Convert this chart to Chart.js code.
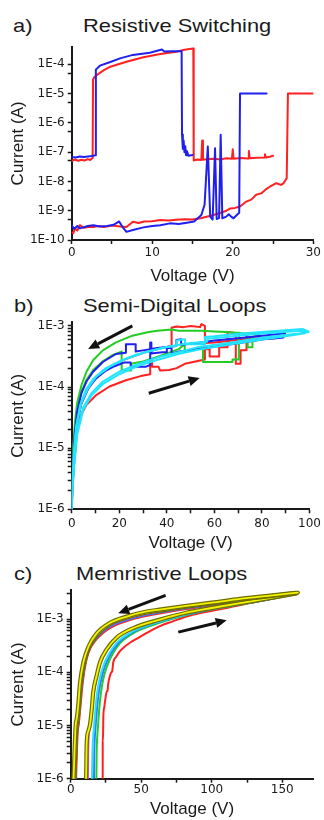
<!DOCTYPE html>
<html>
<head>
<meta charset="utf-8">
<script src="https://cdn.jsdelivr.net/npm/chart.js@4.4.1/dist/chart.umd.min.js"></script>
<style>
    html, body { margin: 0; padding: 0; background: #fff; }
    body {
        width: 324px; height: 820px; position: relative; overflow: hidden;
        font-family: "Liberation Sans", Arial, sans-serif; color: #1a1a1a;
    }
    .tag, .head {
        position: absolute; font-size: 19px; line-height: 19px; white-space: nowrap;
        transform: scaleX(1.15); transform-origin: left top;
    }
    .panel { position: absolute; left: 0; width: 324px; }
</style>
</head>
<body>
<div class="tag" style="left:13px;top:15.6px">a)</div>
<div class="head" style="left:83px;top:15.6px">Resistive Switching</div>
<div class="panel" style="top:36px;height:254px"><canvas id="chartA"></canvas></div>

<div class="tag" style="left:14px;top:295.6px">b)</div>
<div class="head" style="left:83px;top:295.6px">Semi-Digital Loops</div>
<div class="panel" style="top:312px;height:248px"><canvas id="chartB"></canvas></div>

<div class="tag" style="left:14px;top:564px">c)</div>
<div class="head" style="left:76px;top:564px">Memristive Loops</div>
<div class="panel" style="top:580px;height:240px"><canvas id="chartC"></canvas></div>

<script>
// ---- a) resistive switching: [voltage, current] ----
const aVoltTicks = [0, 5, 10, 15, 20, 25, 30];
const aVoltLabels = ['0', '', '10', '', '20', '', '30'];
const aCurrTicks = [1e-10, 5e-10, 1e-9, 5e-9, 1e-8, 5e-8, 1e-7, 5e-7, 1e-6, 5e-6, 1e-5, 5e-5, 1e-4];

const aRedSet = [[0,5.0e-8],[0.4,5.6e-8],[0.8,5.1e-8],[1.2,5.5e-8],[1.6,5.2e-8],[2.0,5.8e-8],[2.3,5.4e-8],[2.6,6.3e-8],
    [2.65,3.0e-5],[2.8,3.6e-5],[3.1,4.3e-5],[4.0,6.3e-5],[4.8,8.3e-5],[6.8,1.23e-4],[8.9,1.74e-4],[11,2.24e-4],[13,2.7e-4],[14,3.16e-4],[15.1,3.47e-4],
    [15.15,5.2e-8],[15.6,5.6e-8],[16.1,5.4e-8],[16.2,2.5e-7],[16.3,5.5e-8],[17,5.8e-8],[17.8,6.0e-8],[18.4,5.6e-8],[19.2,6.2e-8],[19.9,6.0e-8],
    [20.0,1.25e-7],[20.1,6.0e-8],[21,6.3e-8],[21.9,6.1e-8],[22.0,1.1e-7],[22.1,6.2e-8],[23,6.5e-8],[23.9,6.6e-8],[24.0,8.5e-8],[24.1,6.6e-8],[24.6,7.0e-8],[25,7.5e-8]];
const aRedLow = [[0,1.8e-10],[0.2,1.7e-10],[0.4,2.5e-10],[0.7,2.1e-10],[1.0,3.2e-10],[1.5,2.6e-10],[2.0,2.8e-10],[2.7,2.8e-10],[3.3,3.0e-10],[4.0,2.8e-10],
    [5.0,3.1e-10],[6.0,2.9e-10],[6.8,2.8e-10],[7.6,4.2e-10],[8.3,3.8e-10],[9.0,4.3e-10],[10,4.4e-10],[11,4.8e-10],[12,4.6e-10],[13,4.9e-10],[14,5.1e-10],
    [15,5.0e-10],[16,5.5e-10],[17,6.5e-10],[17.6,7.1e-10],[18.5,8.5e-10],[19.2,1.0e-9],[19.7,1.2e-9],[20.3,1.25e-9],[20.9,1.4e-9],[21.6,2.0e-9],[22.3,2.4e-9],
    [22.9,3.5e-9],[23.6,4.0e-9],[24.2,5.6e-9],[24.6,6.6e-9],[25.4,8.7e-9],[26,7.6e-9],[26.3,8.7e-9],[26.7,1.3e-8],[26.85,1.0e-5],[30,1.0e-5]];
const aBlueSet = [[0,6.9e-8],[0.5,6.6e-8],[1,7.1e-8],[1.5,6.8e-8],[2,7.1e-8],[2.5,7.4e-8],[2.95,7.9e-8],[3.0,6.6e-5],[3.5,9.0e-5],[4.8,1.2e-4],[6,1.6e-4],
    [7.6,2.1e-4],[9.7,2.5e-4],[11.2,3.2e-4],[11.5,2.75e-4],[12.5,2.8e-4],[13.65,2.8e-4],[13.7,4.0e-7],[13.8,1.3e-7],[13.9,2.5e-7],[14.0,1.0e-7],
    [14.1,1.6e-7],[14.2,7.9e-8],[14.3,1.1e-7],[14.5,7.6e-8],[15,8.0e-8]];
const aBlueLow = [[0,3.2e-10],[0.3,2.4e-10],[0.7,3.0e-10],[1,2.5e-10],[2,3.0e-10],[2.7,3.2e-10],[3.5,2.9e-10],[4.4,3.0e-10],[5.2,3.3e-10],[5.9,4.3e-10],
    [6.3,2.8e-10],[6.8,1.9e-10],[7.6,2.2e-10],[8.9,2.7e-10],[10,3.0e-10],[11,3.2e-10],[12.2,3.7e-10],[13.3,3.5e-10],[14.3,3.9e-10],[15.2,4.3e-10],
    [16.1,7.1e-10],[16.5,1.6e-9],[16.9,1.55e-7],[17.2,6.3e-10],[17.5,5.0e-10],[17.8,1.35e-7],[18.0,5.2e-10],[18.3,5.6e-10],[18.5,3.9e-7],[18.7,5.5e-10],
    [19.2,6.3e-10],[19.5,7.6e-10],[19.8,6.3e-10],[20.1,5.5e-10],[20.5,7.1e-10],[20.8,8.5e-10],[20.9,1.0e-5],[24.2,1.0e-5]];

// ---- b) semi-digital loops ----
const bVoltTicks = [0, 10, 20, 30, 40, 50, 60, 70, 80, 90, 100];
const bVoltLabels = ['0', '', '20', '', '40', '', '60', '', '80', '', '100'];
const bCurrTicks = [1e-6, 2e-6, 3e-6, 4e-6, 5e-6, 6e-6, 7e-6, 8e-6, 9e-6, 1e-5, 2e-5, 3e-5, 4e-5, 5e-5, 6e-5, 7e-5, 8e-5, 9e-5,
    1e-4, 2e-4, 3e-4, 4e-4, 5e-4, 6e-4, 7e-4, 8e-4, 9e-4, 1e-3];

const bRedLoop = [[0,1e-6],[0.4,2.3e-6],[1,5.5e-6],[2.1,1.7e-5],[3.4,3.2e-5],[6.2,5.1e-5],[10.3,7.4e-5],[15.9,1.02e-4],[22.8,1.29e-4],[29,1.51e-4],
    [33,1.62e-4],[33,2.63e-4],[33.8,2.63e-4],[33.8,2.14e-4],[36.5,2.14e-4],[37.2,1.86e-4],[41,1.9e-4],[44.1,2.04e-4],[47.6,2.4e-4],[51,2.57e-4],
    [54.5,2.75e-4],[56,2.82e-4],[56,4.17e-4],[58,4.17e-4],[58,3.16e-4],[62,3.16e-4],[62,4.47e-4],[65.5,4.47e-4],[65.5,7.94e-4],[69,7.59e-4],
    [69,2.4e-4],[71,2.4e-4],[71,3.98e-4],[73.5,3.98e-4],[73.5,7.59e-4],[74,6.03e-4],[80,6.31e-4],[85,6.31e-4],[89,6.61e-4],[89,6.9e-4],
    [80,6.46e-4],[70,5.9e-4],[60,5.37e-4],[56,5.25e-4],[56,1.0e-3],[54.5,1.07e-3],[54,9.55e-4],[52,9.8e-4],[50,1.0e-3],[47,9.55e-4],[44,9.8e-4],
    [42,9.33e-4],[42,4.68e-4],[39.3,4.47e-4],[31,3.72e-4],[22.8,2.88e-4],[15.9,2.14e-4],[10.3,1.48e-4],[6.9,9.55e-5],[4.1,5.5e-5],[2.1,2.45e-5],
    [1,9.12e-6],[0.4,3.16e-6],[0,1e-6]];
const bGreenLoop = [[0,1e-6],[0.4,4.5e-6],[1,1.41e-5],[2,3.55e-5],[3.5,7.1e-5],[6,1.26e-4],[9,1.9e-4],[13,2.63e-4],[17,3.31e-4],[21,3.8e-4],
    [21,1.86e-4],[25,1.86e-4],[25,2.4e-4],[30,2.63e-4],[35,3.02e-4],[40,3.55e-4],[45,4.17e-4],[47.5,5.0e-4],[47.5,3.8e-4],[52,4.17e-4],
    [55.2,4.47e-4],[55.2,2.57e-4],[67.6,2.57e-4],[67.6,2.82e-4],[70.3,2.82e-4],[70.3,7.76e-4],[74,7.08e-4],[74,4.47e-4],[76,4.47e-4],[76,6.61e-4],
    [79,7.08e-4],[79,7.41e-4],[72,7.59e-4],[65,7.94e-4],[60,8.13e-4],[55,8.32e-4],[45,8.32e-4],[42,8.71e-4],[36,8.32e-4],[32.4,7.94e-4],
    [25.5,6.92e-4],[18.6,5.37e-4],[13.1,3.98e-4],[9,2.75e-4],[6.2,1.78e-4],[4.1,1.07e-4],[2.3,5.5e-5],[1.4,2.75e-5],[0.7,1.15e-5],[0.28,3.4e-6],[0,1e-6]];
const bBlueLoop = [[0,1e-6],[0.4,4.0e-6],[1,1.0e-5],[2,2.4e-5],[4,5.25e-5],[7,9.55e-5],[10,1.35e-4],[14,1.82e-4],[18,2.19e-4],[22,2.51e-4],
    [24.8,2.51e-4],[24.8,2.14e-4],[31,2.14e-4],[33,2.29e-4],[33,5.37e-4],[33.5,5.37e-4],[33.5,3.55e-4],[38,3.72e-4],[40,3.72e-4],[40,4.37e-4],
    [42,4.37e-4],[42,3.55e-4],[45,3.8e-4],[53,4.17e-4],[60,4.57e-4],[67,5.0e-4],[74,5.5e-4],[80.7,6.03e-4],[86,6.31e-4],[89,6.46e-4],
    [89.7,7.59e-4],[85,7.24e-4],[80,6.92e-4],[70,6.31e-4],[60,5.75e-4],[53,5.25e-4],[48,5.0e-4],[46,4.9e-4],[46,6.03e-4],[44,5.9e-4],[44,4.68e-4],
    [36,4.37e-4],[33,4.17e-4],[30,3.98e-4],[26.9,3.8e-4],[26.9,5.0e-4],[22.8,5.0e-4],[22.8,3.63e-4],[18.6,3.47e-4],[13.1,2.57e-4],[9,1.78e-4],
    [6.2,1.23e-4],[4.1,7.94e-5],[2.3,3.98e-5],[1.4,1.91e-5],[0.7,7.1e-6],[0.28,2.63e-6],[0,1e-6]];
const bCyanLoop1 = [[0,1e-6],[0.4,2.5e-6],[1,5.5e-6],[2.3,1.91e-5],[4.8,4.57e-5],[8.3,7.94e-5],[13.1,1.23e-4],[20,1.78e-4],[28.3,2.4e-4],
    [36.6,3.09e-4],[44.8,3.72e-4],[53,4.47e-4],[67,5.37e-4],[80.7,6.46e-4],[94.5,7.41e-4],[100,7.94e-4],[97,8.91e-4],[90,8.51e-4],[80,7.94e-4],
    [70,7.41e-4],[60,6.76e-4],[56,6.61e-4],[56,5.0e-4],[47.6,5.0e-4],[47.6,6.03e-4],[44,5.75e-4],[44,4.68e-4],[39.3,4.47e-4],[31,3.72e-4],
    [22.8,2.88e-4],[15.9,2.14e-4],[10.3,1.48e-4],[6.9,9.55e-5],[4.1,5.5e-5],[2.1,2.45e-5],[1,9.1e-6],[0.4,3.16e-6],[0,1e-6]];
const bCyanLoop2 = [[0,1e-6],[0.4,2.24e-6],[1,5.0e-6],[2.3,1.66e-5],[4.8,4.17e-5],[8.3,7.24e-5],[13.1,1.12e-4],[20,1.62e-4],[28.3,2.24e-4],
    [36.6,2.82e-4],[44.8,3.47e-4],[53,4.07e-4],[67,5.0e-4],[80.7,6.03e-4],[90,6.76e-4],[98,7.59e-4],[98,8.32e-4],[92,8.13e-4],[85,7.76e-4],
    [75,7.24e-4],[65,6.61e-4],[57,6.17e-4],[57,5.5e-4],[50,5.25e-4],[42,4.68e-4],[35,4.07e-4],[27,3.39e-4],[20,2.63e-4],[14,2.0e-4],[9,1.35e-4],
    [6,9.1e-5],[3.5,5.0e-5],[1.8,2.19e-5],[0.9,7.9e-6],[0.35,2.8e-6],[0,1e-6]];
const bArrows = [[25.5, 1.0e-3, 6.9, 4.2e-4], [32.4, 7.9e-5, 53.8, 1.41e-4]];

// ---- c) memristive loops ----
const cVoltTicks = [0, 25, 50, 75, 100, 125, 150];
const cVoltLabels = ['0', '', '50', '', '100', '', '150'];
const cCurrTicks = [1e-6, 2e-6, 3e-6, 4e-6, 5e-6, 6e-6, 7e-6, 8e-6, 9e-6, 1e-5, 2e-5, 3e-5, 4e-5, 5e-5, 6e-5, 7e-5, 8e-5, 9e-5,
    1e-4, 2e-4, 3e-4, 4e-4, 5e-4, 6e-4, 7e-4, 8e-4, 9e-4, 1e-3, 2e-3, 3e-3];

const cYellowDown1 = [[161,3.16e-3],[140,2.75e-3],[120,2.4e-3],[100,2.04e-3],[82,1.78e-3],[63,1.51e-3],[51.5,1.35e-3],[39.7,1.12e-3],[27.8,8.5e-4],
    [18.4,5.4e-4],[12.5,3.0e-4],[8.9,1.51e-4],[6.6,6.3e-5],[5.4,2.5e-5],[4.4,1.41e-5],[3.5,1.0e-5],[2.7,3.2e-6],[2.0,1e-6]];
const cYellowDown2 = [[160,3.1e-3],[140,2.68e-3],[120,2.34e-3],[100,1.98e-3],[82,1.72e-3],[63,1.45e-3],[51.5,1.29e-3],[39.7,1.07e-3],[27.8,8.1e-4],
    [18.4,5.0e-4],[12.5,2.8e-4],[9.2,1.4e-4],[7.0,6.0e-5],[5.8,2.4e-5],[4.8,1.3e-5],[3.9,8.5e-6],[3.2,3.0e-6],[2.6,1e-6]];
const cMagentaDown = [[159,3.0e-3],[140,2.6e-3],[120,2.27e-3],[100,1.92e-3],[82,1.66e-3],[63,1.39e-3],[51.5,1.23e-3],[39.7,1.01e-3],[27.8,7.6e-4],
    [18.4,4.7e-4],[12.5,2.6e-4],[9.5,1.3e-4],[7.4,5.6e-5],[6.2,2.3e-5],[5.2,1.2e-5],[4.3,8.0e-6],[3.6,2.8e-6],[3.0,1e-6]];
const cBlueDown = [[158,2.95e-3],[140,2.55e-3],[120,2.2e-3],[100,1.86e-3],[82,1.6e-3],[63,1.33e-3],[51.5,1.17e-3],[39.7,9.6e-4],[27.8,7.2e-4],
    [18.4,4.4e-4],[12.5,2.45e-4],[9.8,1.25e-4],[7.8,5.3e-5],[6.5,2.2e-5],[5.5,1.15e-5],[4.6,7.5e-6],[3.9,2.7e-6],[3.4,1e-6]];
const cRedDown = [[157,2.9e-3],[140,2.5e-3],[120,2.15e-3],[100,1.8e-3],[82,1.55e-3],[63,1.28e-3],[51.5,1.12e-3],[39.7,9.2e-4],[27.8,6.8e-4],
    [18.4,4.2e-4],[12.5,2.3e-4],[10,1.2e-4],[8.1,5.0e-5],[6.8,2.1e-5],[5.8,1.1e-5],[4.9,7.0e-6],[4.3,2.6e-6],[3.8,1e-6]];
const cYellowUp = [[10.9,1e-6],[11.1,2.0e-6],[11.3,4.5e-6],[12.5,7.9e-6],[13.7,1.05e-5],[14.9,2.0e-5],[16,4.3e-5],[18.4,8.7e-5],[20.8,1.55e-4],
    [25.5,2.7e-4],[32.6,4.5e-4],[44.4,6.8e-4],[63.3,9.8e-4],[82,1.32e-3],[100,1.62e-3],[120,2.0e-3],[140,2.45e-3],[160,3.05e-3]];
const cMagentaUp = [[12.2,1e-6],[12.4,3.0e-6],[12.8,6.5e-6],[13.8,1.0e-5],[15,1.9e-5],[16.2,3.8e-5],[18.6,8.2e-5],[21,1.48e-4],[25.7,2.6e-4],
    [32.8,4.35e-4],[44.6,6.6e-4],[63.5,9.6e-4],[82,1.3e-3],[100,1.6e-3],[120,1.98e-3],[140,2.42e-3],[159,3.0e-3]];
const cCyanUp = [[15.1,1e-6],[15.4,3.0e-6],[15.9,6.0e-6],[16.6,1.0e-5],[17.5,2.0e-5],[18.7,4.0e-5],[20.5,7.5e-5],[23,1.3e-4],[27,2.2e-4],
    [33,3.7e-4],[44,5.9e-4],[63,9.0e-4],[82,1.24e-3],[100,1.56e-3],[120,1.93e-3],[140,2.38e-3],[158,2.95e-3]];
const cBlueUp = [[16.5,1e-6],[16.7,3.0e-6],[17.1,6.0e-6],[17.7,1.0e-5],[18.6,2.0e-5],[19.8,4.0e-5],[21.6,7.3e-5],[24,1.25e-4],[28,2.15e-4],
    [34,3.6e-4],[45,5.8e-4],[63,8.8e-4],[82,1.22e-3],[100,1.54e-3],[120,1.9e-3],[140,2.35e-3],[158,2.93e-3]];
const cGreenUp = [[18.2,1e-6],[18.4,3.0e-6],[18.8,6.0e-6],[19.4,1.0e-5],[20.2,2.0e-5],[21.4,4.0e-5],[23,7.3e-5],[25.5,1.25e-4],[29.5,2.15e-4],
    [35,3.55e-4],[46,5.75e-4],[64,8.7e-4],[82,1.2e-3],[100,1.52e-3],[120,1.88e-3],[140,2.33e-3],[158,2.92e-3]];
const cRedUp = [[22.7,1e-6],[22.7,5.0e-6],[23.0,7.9e-6],[23.1,1.4e-5],[23.8,2.2e-5],[24.3,2.8e-5],[25.5,4.3e-5],[26.2,4.6e-5],[26.5,5.8e-5],
    [27.9,8.7e-5],[28.8,1.0e-4],[29.4,1.05e-4],[30.2,1.55e-4],[32.5,2.0e-4],[34.9,2.5e-4],[38,3.0e-4],[42,3.6e-4],[47,4.3e-4],[53.9,5.5e-4],
    [63.3,7.4e-4],[72,9.0e-4],[82.2,1.12e-3],[92,1.3e-3],[103,1.48e-3],[115,1.72e-3],[127,2.0e-3],[140,2.35e-3],[151,2.65e-3],[160,2.95e-3]];
const cArrows = [[67.3, 2.8e-3, 33.7, 1.29e-3], [76.3, 5.7e-4, 110.6, 9.5e-4]];

const INK = '#1a1a1a';
const FONT = '"Liberation Sans", Arial, sans-serif';
const TICK_FONT = '"DejaVu Sans", sans-serif';

function decadeLabel(value) {
    const exp = Math.round(Math.log10(value));
    return Math.abs(value / Math.pow(10, exp) - 1) < 1e-6 ? `1E${exp}` : '';
}

function lineSet(points, color, width, smooth) {
    return {
        data: points.map(([x, y]) => ({ x, y })),
        borderColor: color,
        backgroundColor: color,
        borderWidth: width || 2,
        showLine: true,
        pointRadius: 0,
        tension: smooth ? 0.4 : 0,
        cubicInterpolationMode: smooth ? 'monotone' : 'default',
        borderJoinStyle: 'round',
        borderCapStyle: 'round',
    };
}

// black arrows, placed in data coordinates
const arrowPlugin = {
    id: 'arrows',
    afterDatasetsDraw(chart, args, opts) {
        const list = opts.list || [];
        const { ctx, scales: { x, y } } = chart;
        ctx.save();
        ctx.strokeStyle = '#111';
        ctx.fillStyle = '#111';
        ctx.lineWidth = 3;
        list.forEach(([x0, y0, x1, y1]) => {
            const px0 = x.getPixelForValue(x0), py0 = y.getPixelForValue(y0);
            const px1 = x.getPixelForValue(x1), py1 = y.getPixelForValue(y1);
            const ang = Math.atan2(py1 - py0, px1 - px0);
            const head = 11, half = 5;
            const bx = px1 - head * Math.cos(ang), by = py1 - head * Math.sin(ang);
            ctx.beginPath();
            ctx.moveTo(px0, py0);
            ctx.lineTo(bx, by);
            ctx.stroke();
            ctx.beginPath();
            ctx.moveTo(px1, py1);
            ctx.lineTo(bx + half * Math.sin(ang), by - half * Math.cos(ang));
            ctx.lineTo(bx - half * Math.sin(ang), by + half * Math.cos(ang));
            ctx.closePath();
            ctx.fill();
        });
        ctx.restore();
    },
};

function makeChart(id, cfg) {
    const axisGrid = { drawOnChartArea: false, drawTicks: true, tickLength: 4, tickColor: INK, tickWidth: 1.5 };
    const axisBorder = { display: true, color: INK, width: 2 };
    return new Chart(document.getElementById(id), {
        type: 'scatter',
        data: { datasets: cfg.datasets },
        plugins: [arrowPlugin],
        options: {
            responsive: true,
            maintainAspectRatio: false,
            animation: false,
            layout: { padding: { top: cfg.padTop, right: cfg.padRight, left: 0, bottom: 0 } },
            plugins: {
                legend: { display: false },
                tooltip: { enabled: false },
                arrows: { list: cfg.arrows || [] },
            },
            scales: {
                x: {
                    type: 'linear',
                    min: cfg.xMin,
                    max: cfg.xMax,
                    afterBuildTicks: scale => { scale.ticks = cfg.xTicks.map(v => ({ value: v })); },
                    afterFit: scale => { scale.height = cfg.xHeight; },
                    ticks: {
                        autoSkip: false, maxRotation: 0, padding: cfg.xTickPad, color: INK,
                        font: { family: TICK_FONT, size: 12 },
                        callback: (value, index) => cfg.xLabels[index],
                    },
                    grid: axisGrid,
                    border: axisBorder,
                    title: {
                        display: true, text: 'Voltage (V)', color: INK,
                        font: { family: FONT, size: 17 },
                        padding: { top: 0, bottom: cfg.xTitlePad },
                    },
                },
                y: {
                    type: 'logarithmic',
                    min: cfg.yMin,
                    max: cfg.yMax,
                    afterBuildTicks: scale => { scale.ticks = cfg.yTicks.map(v => ({ value: v })); },
                    afterFit: scale => { scale.width = cfg.yWidth; },
                    ticks: {
                        autoSkip: false, padding: 3, color: INK,
                        font: { family: TICK_FONT, size: 12 },
                        callback: value => decadeLabel(value),
                    },
                    grid: axisGrid,
                    border: axisBorder,
                    title: {
                        display: true, text: 'Current (A)', color: INK,
                        font: { family: FONT, size: 17 },
                        padding: { top: 8, bottom: 0 },
                    },
                },
            },
        },
    });
}

const RED = '#ff2020', BLUE = '#1f1ff0', GREEN = '#22cc22', CYAN = '#22e4ff';
const MAGENTA = '#ff3cff', SKY = '#2f7dff', YELLOW = '#f4f400', OLIVE = '#6d6d00';

makeChart('chartA', {
    datasets: [
        lineSet(aBlueSet, BLUE), lineSet(aBlueLow, BLUE),
        lineSet(aRedSet, RED), lineSet(aRedLow, RED),
    ],
    xMin: 0, xMax: 30, xTicks: aVoltTicks, xLabels: aVoltLabels,
    yMin: 1e-10, yMax: 4e-4, yTicks: aCurrTicks,
    padTop: 10.7, padRight: 10.7, yWidth: 71.7, xHeight: 50, xTickPad: 2, xTitlePad: 3.8,
});

makeChart('chartB', {
    datasets: [
        lineSet(bCyanLoop1, CYAN), lineSet(bCyanLoop2, CYAN),
        lineSet(bBlueLoop, BLUE), lineSet(bGreenLoop, GREEN), lineSet(bRedLoop, RED),
    ],
    arrows: bArrows,
    xMin: 0, xMax: 100, xTicks: bVoltTicks, xLabels: bVoltLabels,
    yMin: 1e-6, yMax: 1.15e-3, yTicks: bCurrTicks,
    padTop: 7, padRight: 10.7, yWidth: 71.7, xHeight: 50.7, xTickPad: 3, xTitlePad: 6.8,
});

makeChart('chartC', {
    datasets: [
        lineSet(cYellowDown1, YELLOW, 1.8, true), lineSet(cYellowDown1, OLIVE, 4.2, true),
        lineSet(cYellowDown2, YELLOW, 1.8, true), lineSet(cYellowDown2, OLIVE, 4.2, true),
        lineSet(cYellowUp, YELLOW, 1.8, true), lineSet(cYellowUp, OLIVE, 4.2, true),
        lineSet(cMagentaDown, MAGENTA, 2, true), lineSet(cMagentaUp, MAGENTA, 2, true),
        lineSet(cBlueDown, SKY, 2, true), lineSet(cCyanUp, CYAN, 2, true),
        lineSet(cBlueUp, SKY, 2, true), lineSet(cGreenUp, GREEN, 2, true),
        lineSet(cRedDown, RED, 2, true), lineSet(cRedUp, RED, 2, true),
    ],
    arrows: cArrows,
    xMin: 0, xMax: 172, xTicks: cVoltTicks, xLabels: cVoltLabels,
    yMin: 1e-6, yMax: 3.5e-3, yTicks: cCurrTicks,
    padTop: 6.7, padRight: 10.7, yWidth: 70.7, xHeight: 41.3, xTickPad: 0.3, xTitlePad: 0.8,
});
</script>
</body>
</html>
